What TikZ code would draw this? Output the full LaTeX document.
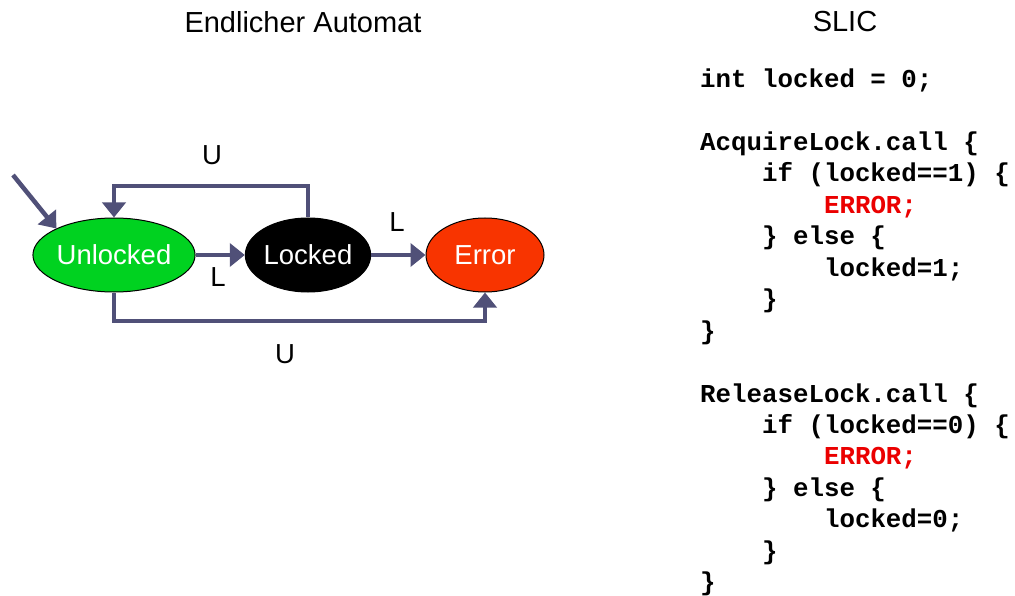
\documentclass[tikz,border=0pt]{standalone}
\usepackage{fontspec}
\setmainfont{Liberation Sans}
\setmonofont{Liberation Mono}
\usetikzlibrary{shapes.geometric, arrows.meta}

\definecolor{stategreen}{RGB}{0,210,32}
\definecolor{statered}{RGB}{248,52,0}
\definecolor{edgeblue}{RGB}{80,80,120}
\definecolor{codered}{RGB}{235,0,0}

\newcommand{\ind}{\hphantom{xxxx}}
\newcommand{\errtxt}[1]{\textcolor{codered}{#1}}

\begin{document}
\begin{tikzpicture}[x=1pt,y=-1pt,
  state/.style={ellipse, draw=black, line width=1pt, inner sep=0pt, minimum height=74pt, text=white, font=\fontsize{27.5}{30}\selectfont},
  edge/.style={draw=edgeblue, line width=4.5pt, -{Triangle[length=15pt,width=23pt]}},
  lbl/.style={font=\fontsize{27.5}{30}\selectfont},
  codeline/.style={anchor=base west, inner sep=0pt, font=\ttfamily\bfseries\fontsize{25.8}{31.4}\selectfont}]
\useasboundingbox (0,0) rectangle (1015,596);
% titles
\node[lbl, font=\fontsize{29}{32}\selectfont] (titleA) at (303,22) {Endlicher Automat};
\node[lbl, font=\fontsize{29}{32}\selectfont] (titleS) at (845,22) {SLIC};
% states
\node[state, fill=stategreen, minimum width=155pt] (unlocked) at (114,255) {Unlocked};
\node[state, fill=black, minimum width=124pt] (locked) at (308,255) {Locked};
\node[state, fill=statered, minimum width=118pt] (error) at (485,255) {Error};
% transitions
\coordinate (init) at (13,175);
\draw[edge] (init) -- (unlocked.north west);
\draw[edge] (unlocked) -- (locked);
\draw[edge] (locked) -- (error);
\draw[edge] (locked.north) -- (locked.north |- 0,186) -| (unlocked.north);
\draw[edge] (unlocked.south) -- (unlocked.south |- 0,321) -| (error.south);
\node[lbl] (labU1) at (212,155) {U};
\node[lbl] (labL1) at (218,277) {L};
\node[lbl] (labL2) at (397,222) {L};
\node[lbl] (labU2) at (285,354) {U};
% code
\foreach \n/\txt in {1/{int locked = 0;}, 3/{AcquireLock.call \{}, 4/{\ind if (locked==1) \{},
    5/{\ind\ind\errtxt{ERROR;}}, 6/{\ind\} else \{}, 7/{\ind\ind locked=1;}, 8/{\ind\}}, 9/{\}},
    11/{ReleaseLock.call \{}, 12/{\ind if (locked==0) \{}, 13/{\ind\ind\errtxt{ERROR;}},
    14/{\ind\} else \{}, 15/{\ind\ind locked=0;}, 16/{\ind\}}, 17/{\}}}
  \node[codeline] (code\n) at (700,{87.5+31.45*(\n-1)}) {\txt};
\end{tikzpicture}
\end{document}
